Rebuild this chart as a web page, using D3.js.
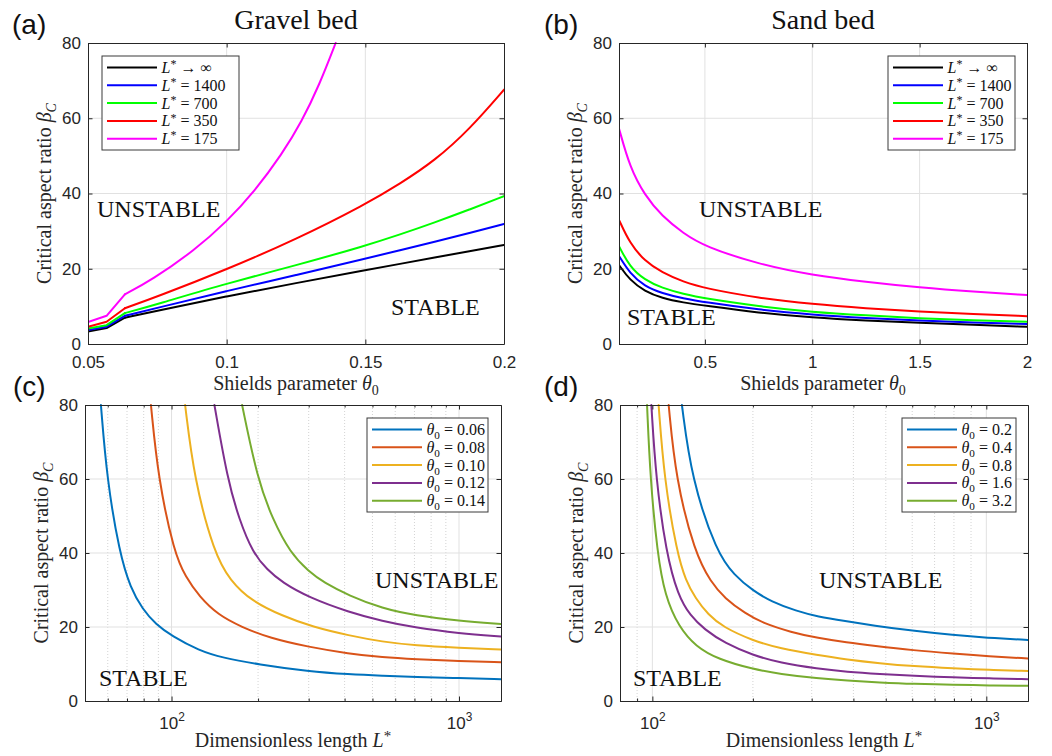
<!DOCTYPE html>
<html><head><meta charset="utf-8">
<script src="https://cdn.jsdelivr.net/npm/d3@7"></script>
<style>body{margin:0;background:#fff}svg{display:block}</style>
</head><body>
<svg id="chart" width="1052" height="756"></svg>
<script>
// ---------------- data ----------------
const yTicks = [0, 20, 40, 60, 80];
const gravelXTicks = [0.05, 0.1, 0.15, 0.2];
const gravelXTickLabels = ["0.05", "0.1", "0.15", "0.2"];
const sandXTicks = [0.5, 1, 1.5, 2];
const sandXTickLabels = ["0.5", "1", "1.5", "2"];
const logXTicks = [100, 1000];
const logXTickExponents = ["2", "3"];

// (a) Gravel bed: beta_C vs theta_0 (corner of the curves at theta_0 = 0.0633)
const gravelTheta = [0.05, 0.0567, 0.0633, 0.075, 0.1, 0.125, 0.15, 0.1625, 0.175, 0.1875, 0.2];
const gravelInf  = [3.3, 4.25, 7.0, 8.8, 12.7, 16.2, 19.6, 21.3, 23.0, 24.65, 26.3];
const gravel1400 = [3.7, 4.6, 7.5, 9.6, 14.1, 18.3, 22.7, 24.9, 27.2, 29.5, 31.9];
const gravel700  = [4.1, 5.0, 8.2, 10.6, 16.1, 20.9, 26.1, 29.1, 32.3, 35.7, 39.3];
const gravel350  = [4.6, 5.9, 9.5, 12.6, 19.8, 27.8, 37.1, 42.6, 48.7, 57.0, 67.6];
const gravel175Theta = [0.05, 0.0567, 0.0633, 0.073, 0.0886, 0.1, 0.11, 0.12, 0.127, 0.1335, 0.1393];
const gravel175  = [5.8, 7.5, 13.2, 17.0, 25.0, 32.5, 40.5, 50.5, 59.0, 69.0, 80];

// (b) Sand bed
const sandTheta = [0.1, 0.15, 0.22, 0.3, 0.4, 0.5, 0.75, 1.0, 1.25, 1.5, 1.75, 2.0];
const sandInf  = [21.0, 17.0, 14.0, 12.2, 11.0, 10.2, 8.3, 7.0, 6.2, 5.6, 5.1, 4.6];
const sand1400 = [23.4, 18.8, 15.3, 13.5, 12.1, 11.1, 9.1, 7.8, 6.9, 6.2, 5.7, 5.3];
const sand700  = [26.0, 20.5, 17.0, 14.9, 13.3, 12.1, 10.0, 8.5, 7.6, 6.8, 6.3, 5.9];
const sand350  = [33.0, 26.8, 22.0, 19.0, 16.5, 14.8, 12.2, 10.6, 9.5, 8.6, 8.0, 7.4];
const sand175  = [57.3, 47.0, 39.5, 34.0, 29.4, 25.9, 21.2, 18.3, 16.5, 15.0, 13.9, 13.0];

// (c) Gravel bed: beta_C vs L*
const c006L = [56.8, 59.6, 65.9, 72, 79.3, 88.2, 100, 124.8, 150, 200, 300, 414, 541, 706, 1000, 1400];
const c006B = [80, 60, 40, 30.5, 24.8, 20.7, 17.6, 13.6, 11.7, 9.9, 8.0, 7.2, 6.8, 6.5, 6.2, 5.9];
const c008L = [84.8, 89.9, 102.2, 112, 125, 145, 175, 220, 300, 414, 541, 706, 1000, 1400];
const c008B = [80, 60, 40, 33.5, 28.2, 23.3, 20.0, 17.0, 14.6, 12.8, 11.8, 11.3, 10.8, 10.5];
const c010L = [111.5, 119.9, 140.6, 160, 190, 243, 310, 414, 541, 706, 1000, 1400];
const c010B = [80, 60, 40, 32.5, 27.0, 23.0, 20.0, 17.7, 16.0, 15.0, 14.4, 13.9];
const c012L = [141, 156.5, 172, 192, 215, 243, 300, 414, 541, 706, 1000, 1400];
const c012B = [80, 60, 49, 40, 35.5, 32.0, 28.0, 24.0, 21.6, 19.8, 18.3, 17.4];
const c014L = [176, 199, 225, 259, 300, 339, 414, 541, 706, 1000, 1400];
const c014B = [80, 60, 49, 40, 35, 32.0, 28.5, 25.0, 23.1, 21.7, 20.8];

// (d) Sand bed: beta_C vs L*
const d02L = [122.6, 131, 156, 176, 200, 227, 270, 313, 377, 460, 598, 800, 1000, 1333];
const d02B = [80, 60, 40, 34, 29.8, 26.9, 24.3, 22.8, 21.6, 20.4, 19.0, 17.8, 17.1, 16.5];
const d04L = [111.9, 117.5, 134, 150, 164.6, 190, 215, 260, 313, 382, 460, 604, 800, 1015, 1333];
const d04B = [80, 60, 40, 32, 27.8, 23.6, 21.0, 18.6, 17.0, 15.8, 14.9, 13.7, 12.8, 12.1, 11.5];
const d08L = [104.4, 108.5, 118.5, 126, 134.5, 147, 162.7, 200, 241, 313, 382, 480, 604, 800, 1015, 1333];
const d08B = [80, 60, 40, 32.5, 27.8, 23.3, 20.0, 16.3, 14.2, 12.4, 11.2, 10.2, 9.4, 8.8, 8.4, 8.1];
const d16L = [99.3, 102.5, 110, 119.3, 130, 143, 165, 200, 241, 313, 382, 480, 604, 800, 1015, 1333];
const d16B = [80, 60, 40, 28.5, 23.0, 19.4, 15.6, 12.4, 10.3, 8.7, 7.9, 7.3, 6.8, 6.4, 6.1, 5.9];
const d32L = [96.4, 98.6, 103.5, 109, 120, 135, 157.2, 200, 241, 313, 382, 480, 604, 800, 1015, 1333];
const d32B = [80, 60, 40, 28.5, 20.0, 14.7, 11.3, 8.6, 7.3, 6.1, 5.5, 5.0, 4.6, 4.4, 4.2, 4.1];

const lLegendLabels = [" \u2192 \u221E", " = 1400", " = 700", " = 350", " = 175"];
const gravelThetaLabels = [" = 0.06", " = 0.08", " = 0.10", " = 0.12", " = 0.14"];
const sandThetaLabels = [" = 0.2", " = 0.4", " = 0.8", " = 1.6", " = 3.2"];

// ---------------- styles ----------------
const SERIF = "'Liberation Serif','Times New Roman',serif";
const SANS = "'Liberation Sans',Arial,Helvetica,sans-serif";
const AX = "#262626";
const lColors = ["#000000", "#0000ff", "#00ff00", "#ff0000", "#ff00ff"];
const mColors = ["#0072BD", "#D95319", "#EDB120", "#7E2F8E", "#77AC30"];

const svg = d3.select("#chart");

function rich(textSel, segs, size) {
  let shift = 0;
  segs.forEach(s => {
    const ts = textSel.append("tspan").text(s.t);
    let target = 0, fs = size;
    if (s.sub) { target = 0.25 * size; fs = size * 0.7; }
    if (s.sup) { target = (s.sh != null ? s.sh : -0.42) * size; fs = size * (s.fs || 0.7); }
    ts.attr("font-size", fs);
    if (target !== shift) { ts.attr("dy", target - shift); shift = target; }
    if (s.it) ts.attr("font-style", "italic");
  });
}
const Lseg = rest => [{t: "L", it: 1}, {t: "*", sup: 1, sh: -0.3, fs: 0.75}, {t: rest}];
const Tseg = rest => [{t: "\u03B8", it: 1}, {t: "0", sub: 1}, {t: rest}];
const xLabelTheta = [{t: "Shields parameter "}, {t: "\u03B8", it: 1}, {t: "0", sub: 1}];
const xLabelL = [{t: "Dimensionless length "}, {t: "L", it: 1}, {t: "*", sup: 1, sh: -0.3, fs: 0.75}];
const yLabel = [{t: "Critical aspect ratio "}, {t: "\u03B2", it: 1}, {t: "C", sub: 1, it: 1}];

function panel(o) {
  const g = svg.append("g");
  const x = (o.log ? d3.scaleLog() : d3.scaleLinear()).domain(o.xDomain).range([o.l, o.r]);
  const y = d3.scaleLinear().domain([0, 80]).range([o.b, o.t]);
  const tl = 4.5;

  // grid
  const grid = g.append("g");
  if (o.log) {
    const minors = [];
    [10, 100, 1000].forEach(d => { for (let k = 2; k <= 9; k++) { const v = k * d; if (v > o.xDomain[0] && v < o.xDomain[1]) minors.push(v); } });
    grid.selectAll("line.mn").data(minors).join("line").attr("class", "mn")
      .attr("x1", d => x(d)).attr("x2", d => x(d)).attr("y1", o.t).attr("y2", o.b)
      .attr("stroke", "#c8c8c8").attr("stroke-width", 0.8).attr("stroke-dasharray", "1,2");
    o.minors = minors;
  }
  const xg = o.xTicks.filter(v => v > o.xDomain[0] && v < o.xDomain[1]);
  grid.selectAll("line.vx").data(xg).join("line").attr("class", "vx")
    .attr("x1", d => x(d)).attr("x2", d => x(d)).attr("y1", o.t).attr("y2", o.b)
    .attr("stroke", "#e1e1e1").attr("stroke-width", 1);
  grid.selectAll("line.hy").data(yTicks.filter(v => v > 0 && v < 80)).join("line").attr("class", "hy")
    .attr("x1", o.l).attr("x2", o.r).attr("y1", d => y(d)).attr("y2", d => y(d))
    .attr("stroke", "#e1e1e1").attr("stroke-width", 1);

  // curves
  const cid = "clip" + o.id;
  svg.append("clipPath").attr("id", cid).append("rect")
    .attr("x", o.l).attr("y", o.t - 1).attr("width", o.r - o.l).attr("height", o.b - o.t + 1);
  const smooth = d3.line().x(d => x(d[0])).y(d => y(d[1])).curve(d3.curveBasis);
  const straight = d3.line().x(d => x(d[0])).y(d => y(d[1]));
  const cg = g.append("g").attr("clip-path", `url(#${cid})`);
  o.series.forEach(s => {
    const pts = s.xs.map((v, i) => [v, s.ys[i]]);
    const k = o.kink || 0;
    const parts = k > 0 ? [[straight, pts.slice(0, k + 1)], [smooth, pts.slice(k)]] : [[smooth, pts]];
    parts.forEach(([gen, p]) => {
      cg.append("path").datum(p)
        .attr("d", gen).attr("fill", "none").attr("stroke", s.color)
        .attr("stroke-width", 2).attr("stroke-linejoin", "round").attr("stroke-linecap", "round");
    });
  });

  // axes
  const fmt = o.log ? (() => "") : ((d, i) => o.xTickLabels[i]);
  const bottom = g.append("g").attr("transform", `translate(0,${o.b})`)
    .call(d3.axisBottom(x).tickValues(o.xTicks).tickSize(-tl).tickSizeOuter(0).tickPadding(o.log ? 16 : 12).tickFormat(fmt));
  g.append("g").attr("transform", `translate(0,${o.t})`)
    .call(d3.axisTop(x).tickValues(o.xTicks).tickSize(-tl).tickSizeOuter(0).tickFormat(""));
  g.append("g").attr("transform", `translate(${o.l},0)`)
    .call(d3.axisLeft(y).tickValues(yTicks).tickSize(-tl).tickSizeOuter(0).tickPadding(7));
  g.append("g").attr("transform", `translate(${o.r},0)`)
    .call(d3.axisRight(y).tickValues(yTicks).tickSize(-tl).tickSizeOuter(0).tickFormat(""));
  if (o.log) {
    g.append("g").attr("transform", `translate(0,${o.b})`)
      .call(d3.axisBottom(x).tickValues(o.minors).tickSize(-2.5).tickSizeOuter(0).tickFormat(""));
    g.append("g").attr("transform", `translate(0,${o.t})`)
      .call(d3.axisTop(x).tickValues(o.minors).tickSize(-2.5).tickSizeOuter(0).tickFormat(""));
    bottom.selectAll(".tick text").each(function (d, i) {
      const t = d3.select(this);
      t.attr("dy", "0.71em");
      rich(t, [{t: "10"}, {t: logXTickExponents[i], sup: 1, sh: -0.5}], 17);
    });
  }
  g.selectAll(".domain").attr("stroke", AX).attr("stroke-width", 1);
  g.selectAll(".tick line").attr("stroke", AX).attr("stroke-width", 1);
  g.selectAll(".tick text").attr("font-family", SANS).attr("font-size", 17).attr("fill", AX);

  // legend
  const lg = g.append("g");
  lg.append("rect").attr("x", o.leg.x).attr("y", o.leg.y).attr("width", o.leg.w).attr("height", o.leg.h)
    .attr("fill", "#fff").attr("stroke", "#3a3a3a").attr("stroke-width", 1);
  o.series.forEach((s, i) => {
    const yy = o.leg.y + 11.5 + i * 17.8;
    lg.append("line").attr("x1", o.leg.x + 5).attr("x2", o.leg.x + 55).attr("y1", yy).attr("y2", yy)
      .attr("stroke", s.color).attr("stroke-width", 2);
    const t = lg.append("text").attr("x", o.leg.x + 59.5).attr("y", yy + 5.5)
      .attr("font-family", SERIF).attr("fill", "#111");
    rich(t, s.label, 16);
  });

  // region annotations
  [["UNSTABLE", o.unst], ["STABLE", o.st]].forEach(([txt, p]) => {
    g.append("text").attr("x", p[0]).attr("y", p[1]).text(txt)
      .attr("font-family", SERIF).attr("font-size", 24).attr("fill", "#111");
  });

  // axis labels
  const xl = g.append("text").attr("x", (o.l + o.r) / 2).attr("y", o.b + 46).attr("text-anchor", "middle")
    .attr("font-family", SERIF).attr("fill", AX);
  rich(xl, o.log ? xLabelL : xLabelTheta, 20);
  const yl = g.append("text").attr("transform", `translate(${o.l - 37},${(o.t + o.b) / 2}) rotate(-90)`)
    .attr("text-anchor", "middle").attr("font-family", SERIF).attr("fill", AX);
  rich(yl, yLabel, 20);

  if (o.title) {
    g.append("text").attr("x", (o.l + o.r) / 2).attr("y", 29).attr("text-anchor", "middle")
      .attr("font-family", SERIF).attr("font-size", 28).attr("fill", "#111").text(o.title);
  }
  g.append("text").attr("x", o.tag[0]).attr("y", o.tag[1]).text(o.tagText)
    .attr("font-family", SANS).attr("font-size", 28).attr("fill", "#111");
}

const mk = (xs, ys, color, label) => ({xs, ys, color, label});

panel({
  id: "a", l: 88, r: 504, t: 43, b: 344, log: false, xDomain: [0.05, 0.2], kink: 2,
  xTicks: gravelXTicks, xTickLabels: gravelXTickLabels, title: "Gravel bed",
  tag: [12, 34], tagText: "(a)",
  leg: {x: 102, y: 56, w: 137, h: 94},
  unst: [97, 217], st: [391, 315],
  series: [
    mk(gravelTheta, gravelInf, lColors[0], Lseg(lLegendLabels[0])),
    mk(gravelTheta, gravel1400, lColors[1], Lseg(lLegendLabels[1])),
    mk(gravelTheta, gravel700, lColors[2], Lseg(lLegendLabels[2])),
    mk(gravelTheta, gravel350, lColors[3], Lseg(lLegendLabels[3])),
    mk(gravel175Theta, gravel175, lColors[4], Lseg(lLegendLabels[4]))
  ]
});
panel({
  id: "b", l: 619, r: 1027, t: 43, b: 344, log: false, xDomain: [0.1, 2],
  xTicks: sandXTicks, xTickLabels: sandXTickLabels, title: "Sand bed",
  tag: [544, 34], tagText: "(b)",
  leg: {x: 888, y: 56, w: 127, h: 94},
  unst: [699, 217], st: [627, 325],
  series: [
    mk(sandTheta, sandInf, lColors[0], Lseg(lLegendLabels[0])),
    mk(sandTheta, sand1400, lColors[1], Lseg(lLegendLabels[1])),
    mk(sandTheta, sand700, lColors[2], Lseg(lLegendLabels[2])),
    mk(sandTheta, sand350, lColors[3], Lseg(lLegendLabels[3])),
    mk(sandTheta, sand175, lColors[4], Lseg(lLegendLabels[4]))
  ]
});
panel({
  id: "c", l: 85, r: 501, t: 405, b: 701, log: true, xDomain: [50, 1400],
  xTicks: logXTicks, tag: [13, 396], tagText: "(c)",
  leg: {x: 367, y: 418, w: 121, h: 94},
  unst: [375, 588], st: [99, 686],
  series: [
    mk(c006L, c006B, mColors[0], Tseg(gravelThetaLabels[0])),
    mk(c008L, c008B, mColors[1], Tseg(gravelThetaLabels[1])),
    mk(c010L, c010B, mColors[2], Tseg(gravelThetaLabels[2])),
    mk(c012L, c012B, mColors[3], Tseg(gravelThetaLabels[3])),
    mk(c014L, c014B, mColors[4], Tseg(gravelThetaLabels[4]))
  ]
});
panel({
  id: "d", l: 620, r: 1028, t: 405, b: 701, log: true, xDomain: [80, 1333],
  xTicks: logXTicks, tag: [544, 396], tagText: "(d)",
  leg: {x: 902, y: 418, w: 114, h: 94},
  unst: [819, 588], st: [633, 686],
  series: [
    mk(d02L, d02B, mColors[0], Tseg(sandThetaLabels[0])),
    mk(d04L, d04B, mColors[1], Tseg(sandThetaLabels[1])),
    mk(d08L, d08B, mColors[2], Tseg(sandThetaLabels[2])),
    mk(d16L, d16B, mColors[3], Tseg(sandThetaLabels[3])),
    mk(d32L, d32B, mColors[4], Tseg(sandThetaLabels[4]))
  ]
});
</script>
</body></html>
